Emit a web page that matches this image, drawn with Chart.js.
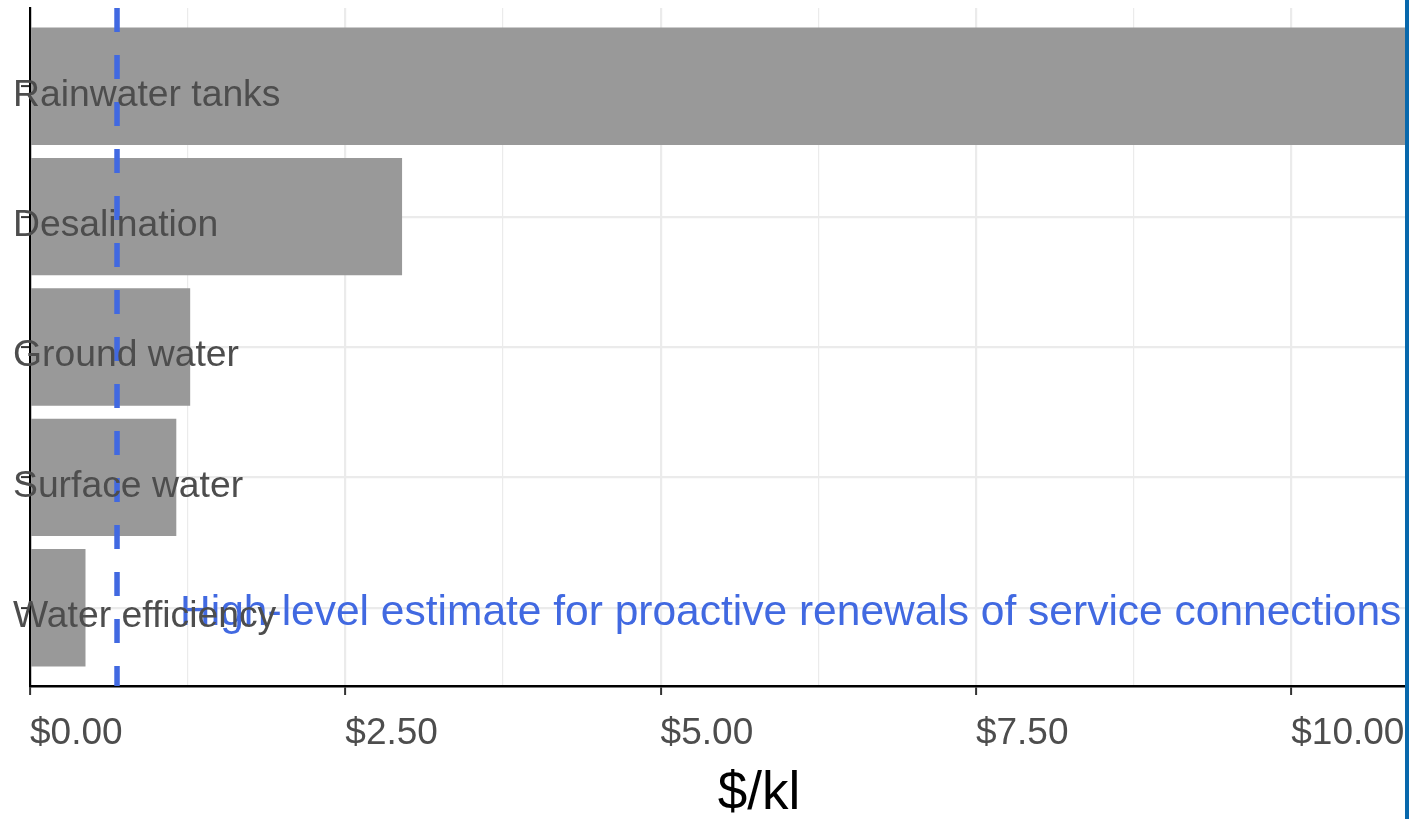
<!DOCTYPE html>
<html>
<head>
<meta charset="utf-8">
<script src="https://cdn.jsdelivr.net/npm/chart.js@4"></script>
<style>
  html, body { margin: 0; padding: 0; background: #ffffff; overflow: hidden; }
  #wrap { position: absolute; left: 0; top: 0; width: 1405px; height: 819px; overflow: hidden; border-right: 4px solid #0868ac; }
  #inner { position: relative; width: 1505px; height: 819px; }
</style>
</head>
<body>
<div id="wrap"><div id="inner"><canvas id="c"></canvas></div></div>
<script>
const categories = ['Rainwater tanks', 'Desalination', 'Ground water', 'Surface water', 'Water efficiency'];
const costPerKl = [12.0, 2.95, 1.27, 1.16, 0.44];
const renewalEstimate = 0.69;
const annotationText = 'High-level estimate for proactive renewals of service connections';
const annotationAt = { x: 1.19, y: 4.04 };
const xTickStep = 1.25;
const xMajorStep = 2.5;
const xMax = 11.56;
const yMin = -0.6, yMax = 4.6;

const FONT = "'Liberation Sans', Arial, sans-serif";
const isMajor = v => Math.abs(v / xMajorStep - Math.round(v / xMajorStep)) < 1e-6;

const annotationPlugin = {
  id: 'annot',
  afterDatasetsDraw(chart) {
    const { ctx, scales } = chart;
    const x = scales.x.getPixelForValue(annotationAt.x);
    const y = scales.y.getPixelForValue(annotationAt.y);
    ctx.save();
    ctx.font = '42.5px ' + FONT;
    ctx.fillStyle = '#4169e1';
    ctx.textAlign = 'left';
    ctx.textBaseline = 'middle';
    ctx.fillText(annotationText, x, y);
    ctx.restore();
  }
};

new Chart(document.getElementById('c'), {
  type: 'bar',
  data: {
    datasets: [
      {
        type: 'line',
        order: 0,
        data: [{ x: renewalEstimate, y: yMin }, { x: renewalEstimate, y: yMax }],
        borderColor: '#4169e1',
        borderWidth: 5.5,
        borderDash: [24, 23],
        pointRadius: 0,
        fill: false
      },
      {
        type: 'bar',
        order: 1,
        data: categories.map((c, i) => ({ x: costPerKl[i], y: i })),
        backgroundColor: '#999999',
        borderWidth: 0,
        categoryPercentage: 1,
        barPercentage: 0.9
      }
    ]
  },
  options: {
    indexAxis: 'y',
    responsive: true,
    maintainAspectRatio: false,
    animation: false,
    events: [],
    layout: { padding: { left: 21, top: 8, right: 0, bottom: 0 } },
    plugins: { legend: { display: false }, tooltip: { enabled: false } },
    scales: {
      x: {
        type: 'linear',
        min: 0,
        max: xMax,
        ticks: {
          stepSize: xTickStep,
          autoSkip: false,
          maxRotation: 0,
          align: 'start',
          padding: 17,
          color: '#4d4d4d',
          font: { family: FONT, size: 37 },
          callback: v => isMajor(v) ? '$' + v.toFixed(2) : ''
        },
        grid: {
          color: '#ebebeb',
          lineWidth: ctx => (ctx.tick && isMajor(ctx.tick.value)) ? 2.2 : 1.2,
          tickColor: ctx => (ctx.tick && isMajor(ctx.tick.value)) ? '#333333' : 'rgba(0,0,0,0)',
          tickWidth: 2,
          tickLength: 9
        },
        border: { display: true, color: '#000000', width: 2.5 },
        title: {
          display: true,
          text: '$/kl',
          color: '#000000',
          font: { family: FONT, size: 53, lineHeight: 1 },
          padding: { top: -5.4, bottom: -2 }
        }
      },
      y: {
        type: 'linear',
        min: yMin,
        max: yMax,
        reverse: true,
        offset: false,
        afterBuildTicks: s => { s.ticks = categories.map((c, i) => ({ value: i })); },
        afterFit: s => { s.width = 9; },
        ticks: {
          mirror: true,
          padding: -17,
          labelOffset: 9,
          z: 1,
          autoSkip: false,
          color: '#4d4d4d',
          font: { family: FONT, size: 37.3 },
          callback: v => categories[v] !== undefined ? categories[v] : ''
        },
        grid: {
          offset: false,
          color: '#ebebeb',
          lineWidth: 2.2,
          tickColor: '#333333',
          tickWidth: 2,
          tickLength: 9
        },
        border: { display: true, color: '#000000', width: 2.2 }
      }
    }
  },
  plugins: [annotationPlugin]
});
</script>
</body>
</html>
